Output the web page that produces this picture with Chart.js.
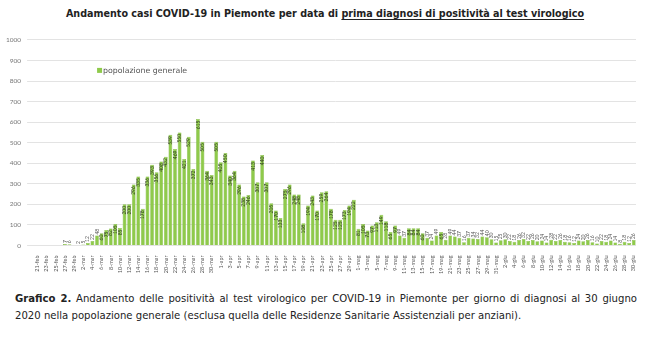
<!DOCTYPE html>
<html>
<head>
<meta charset="utf-8">
<title>Andamento casi COVID-19 Piemonte</title>
<script src="https://cdn.jsdelivr.net/npm/chart.js"></script>
<style>
  body { margin: 0; background: #fff; font-family: 'DejaVu Sans', sans-serif; }
  #title { position: absolute; top: 8px; left: 0; width: 650px; text-align: center;
           font-weight: bold; font-size: 9.6px; color: #222; }
  #title u { text-decoration-thickness: 1px; text-underline-offset: 2px; }
  #wrap { position: absolute; left: 0; top: 30px; width: 650px; height: 246px; }
  #caption { position: absolute; left: 15px; top: 290px; width: 622px; font-size: 10.1px; color: #222; line-height: 17px; }
  #caption .l1 { text-align: justify; text-align-last: justify; }
</style>
</head>
<body>
<div id="title">Andamento casi COVID-19 in Piemonte per data di <u>prima diagnosi di positività al test virologico</u></div>
<div id="wrap"><canvas id="casiChart"></canvas></div>
<div id="caption">
  <div class="l1"><b>Grafico 2.</b> Andamento delle positività al test virologico per COVID-19 in Piemonte per giorno di diagnosi al 30 giugno</div>
  <div>2020 nella popolazione generale (esclusa quella delle Residenze Sanitarie Assistenziali per anziani).</div>
</div>
<script>
// mesi: [abbreviazione, primo giorno, ultimo giorno]
var months = [['feb', 21, 29], ['mar', 1, 31], ['apr', 1, 30], ['mag', 1, 31], ['giu', 1, 30]];

// casi per giorno di prima diagnosi
var febCases = [0, 0, 0, 0, 0, 0, 7, 6, 0];
var marCases = [2, 5, 12, 22, 48, 60, 75, 82, 105, 85, 200, 200, 296, 335, 178, 336,
                393, 356, 408, 432, 539, 469, 550, 421, 529, 372, 615, 505, 364, 343, 505];
var aprCases = [405, 450, 340, 364, 296, 238, 246, 413, 307, 440, 307, 205, 170, 133, 275,
                296, 248, 248, 108, 194, 243, 170, 259, 264, 178, 125, 125, 173, 194, 222];
var magCases = [81, 105, 73, 97, 113, 149, 118, 65, 97, 49, 37, 84, 84, 84, 60, 37,
                24, 49, 65, 28, 49, 44, 37, 16, 37, 34, 32, 44, 40, 30, 15];
var giuCases = [25, 30, 22, 18, 26, 32, 22, 26, 20, 24, 14, 28, 22, 26, 18, 16,
                12, 24, 20, 26, 16, 10, 22, 18, 24, 14, 8, 18, 12, 26];

var yTicks = [0, 100, 200, 300, 400, 500, 600, 700, 800, 900, 1000];

var labels = [];
months.forEach(function(m) {
    for (var d = m[1]; d <= m[2]; d++) labels.push(d + '-' + m[0]);
});
var values = febCases.concat(marCases, aprCases, magCases, giuCases);

// etichette verticali con il valore di ogni barra
var barValues = {
    id: 'barValues',
    afterDatasetsDraw: function(chart) {
        var ctx = chart.ctx;
        var meta = chart.getDatasetMeta(0);
        ctx.save();
        ctx.font = '5px Lato, sans-serif';
        ctx.textBaseline = 'middle';
        meta.data.forEach(function(bar, i) {
            var v = values[i];
            if (!v) return;
            ctx.save();
            var inside = (bar.base - bar.y) > 11;
            ctx.translate(bar.x, inside ? bar.y + 1.5 : bar.y - 1);
            ctx.rotate(-Math.PI / 2);
            ctx.textAlign = inside ? 'right' : 'left';
            ctx.fillStyle = inside ? '#2f3a20' : '#555';
            ctx.fillText(String(v), 0, 0);
            ctx.restore();
        });
        ctx.restore();
    }
};

// legenda interna all'area del grafico
var innerLegend = {
    id: 'innerLegend',
    afterDraw: function(chart) {
        var ctx = chart.ctx;
        var ds = chart.data.datasets[0];
        var x = chart.chartArea.left + 62;
        var y = chart.chartArea.top + 31;
        ctx.save();
        ctx.fillStyle = ds.backgroundColor;
        ctx.fillRect(x, y - 3, 5, 5);
        ctx.fillStyle = '#555';
        ctx.font = '7.8px "DejaVu Sans", sans-serif';
        ctx.textBaseline = 'middle';
        ctx.fillText(ds.label, x + 6, y);
        ctx.restore();
    }
};

new Chart(document.getElementById('casiChart').getContext('2d'), {
    type: 'bar',
    data: {
        labels: labels,
        datasets: [{
            label: 'popolazione generale',
            data: values,
            backgroundColor: '#8fca4b',
            borderColor: '#74b035',
            borderWidth: 0.5,
            barPercentage: 0.82,
            categoryPercentage: 1
        }]
    },
    options: {
        responsive: true,
        maintainAspectRatio: false,
        animation: false,
        layout: { padding: { top: 6, right: 14, left: 0, bottom: 0 } },
        plugins: {
            legend: { display: false },
            tooltip: { enabled: false }
        },
        scales: {
            x: {
                grid: { display: false },
                border: { display: false },
                ticks: {
                    autoSkip: false,
                    maxRotation: 90,
                    minRotation: 90,
                    padding: 2,
                    color: '#555',
                    font: { size: 5.5, family: 'Lato' },
                    callback: function(val, i) { return i % 2 === 0 ? labels[i] : ''; }
                }
            },
            y: {
                min: 0,
                max: 1000,
                afterBuildTicks: function(axis) {
                    axis.ticks = yTicks.map(function(v) { return { value: v }; });
                },
                grid: { color: '#e3e3e3', lineWidth: 1 },
                border: { display: false },
                ticks: {
                    padding: 6,
                    color: '#777',
                    font: { size: 6.5, family: 'Lato' },
                    callback: function(v) { return String(v); }
                }
            }
        }
    },
    plugins: [barValues, innerLegend]
});
</script>
</body>
</html>
